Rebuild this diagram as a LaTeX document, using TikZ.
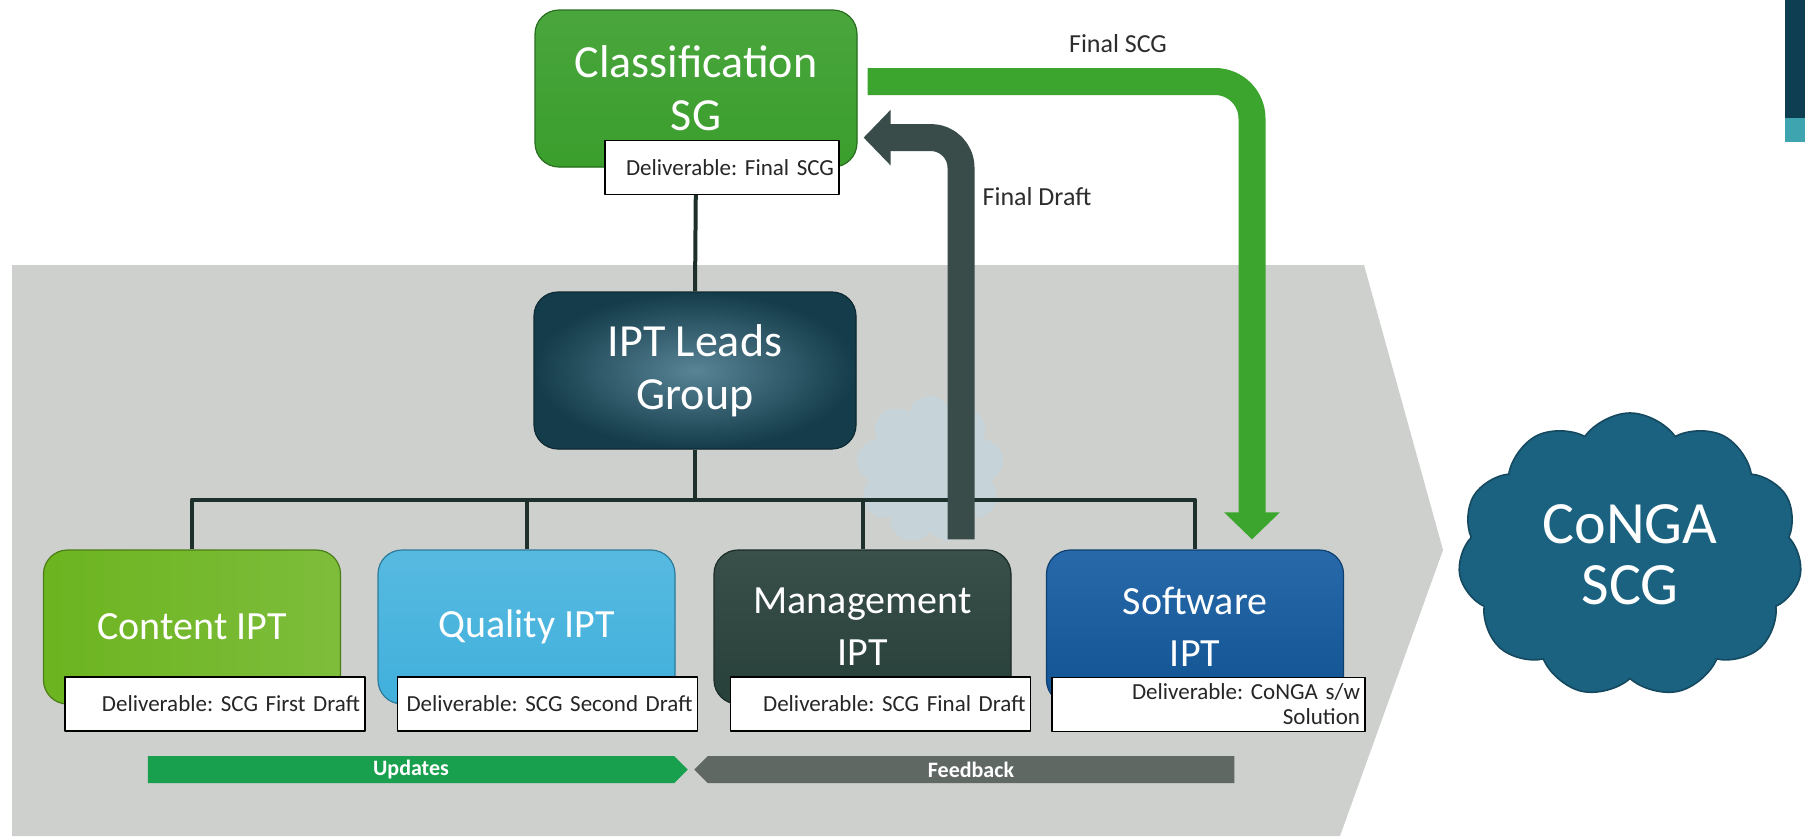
\documentclass[tikz,border=0pt]{standalone}
\usepackage{fontspec}
\setmainfont{Carlito}
\usetikzlibrary{arrows.meta,shapes.symbols,calc}
\frenchspacing
\definecolor{bandgrey}{RGB}{206,208,205}
\definecolor{ghostblue}{RGB}{198,211,216}
\definecolor{wirecol}{RGB}{30,48,44}
\definecolor{clsgreen}{RGB}{58,158,44}
\definecolor{leadsteal}{RGB}{20,60,74}
\definecolor{leadsglow}{RGB}{88,132,150}
\definecolor{contgreen}{RGB}{108,180,32}
\definecolor{qualblue}{RGB}{64,176,220}
\definecolor{mgmtgreen}{RGB}{40,64,58}
\definecolor{swblue}{RGB}{20,92,162}
\definecolor{congablue}{RGB}{27,97,128}
\definecolor{scgarrow}{RGB}{60,165,46}
\definecolor{draftgrey}{RGB}{58,76,73}
\definecolor{updgreen}{RGB}{24,160,78}
\definecolor{fbgrey}{RGB}{96,104,100}
\definecolor{lbltext}{RGB}{45,45,45}
\definecolor{tabdark}{RGB}{14,62,82}
\definecolor{tablight}{RGB}{62,165,176}
\begin{document}
\begin{tikzpicture}[x=0.5pt,y=-0.5pt,line join=round,
	box/.style={rounded corners=12pt,draw=#1!70!black,line width=0.6pt,fill=#1,text=white,align=center,
		minimum width=148.5pt,minimum height=77pt,font=\fontsize{20}{26}\selectfont},
	topbox/.style={box=#1,minimum width=161pt,minimum height=78.5pt,font=\fontsize{23}{26.5}\selectfont},
	deliv/.style={draw=black,line width=0.8pt,fill=white,text=black!85,minimum height=27pt,inner xsep=2.5pt,
		text width=145pt,align=right,font=\fontsize{11.5}{12.5}\selectfont},
	wire/.style={draw=wirecol,line width=2pt},
	bigarrow/.style={line width=13.5pt,-{Triangle[length=13.5pt,width=27pt]}},
	lbl/.style={text=lbltext,font=\fontsize{13}{15}\selectfont},
	band/.style={signal,signal pointer angle=90,minimum width=270pt,minimum height=13.5pt,inner ysep=0pt,
		text=white,font=\bfseries\fontsize{11}{13}\selectfont}]
	\useasboundingbox (0,0) rectangle (1805,836);
	\fill[white] (0,0) rectangle (1805,836);
	\fill[bandgrey] (12,265) -- (1364,265) -- (1443,550) -- (1340,836) -- (12,836) -- cycle;
	\fill[tabdark] (1785,0) rectangle (1805,118);
	\fill[tablight] (1785,118) rectangle (1805,142);
	\node[cloud,cloud puffs=9,fill=ghostblue,minimum width=74pt,minimum height=74pt] (ghost) at (930,470) {};

	\node[topbox=clsgreen,top color=clsgreen!92!white,bottom color=clsgreen] (clsg) at (696,88.5) {Classification\\SG};
	\node[topbox=leadsteal,shading=radial,inner color=leadsglow,outer color=leadsteal] (leads) at (695,370.5) {IPT Leads\\Group};
	\node[box=contgreen,left color=contgreen,right color=contgreen!88!white] (content) at (192,627) {Content IPT};
	\node[box=qualblue,top color=qualblue!88!white,bottom color=qualblue] (quality) at (526.5,627) {Quality IPT};
	\node[box=mgmtgreen,top color=mgmtgreen!92!white,bottom color=mgmtgreen] (mgmt) at (862.5,627) {Management\\IPT};
	\node[box=swblue,top color=swblue!92!white,bottom color=swblue!90!black] (sw) at (1195,627) {Software\\IPT};
	\node[cloud,cloud puffs=11,cloud puff arc=110,aspect=1.3,fill=congablue,draw=congablue!75!black,line width=0.8pt,
		minimum width=172pt,minimum height=142pt,text=white,align=center,font=\fontsize{30}{30.5}\selectfont] (conga) at (1630,555) {CoNGA\\SCG};

	\coordinate (bus) at ($(leads.south)+(0,50)$);
	\draw[wire] (clsg.south) -- (leads.north);
	\draw[wire] (leads.south) -- (bus);
	\draw[wire] (content.north) |- (bus) -| (sw.north);
	\draw[wire] (quality.north) -- (quality.north |- bus);
	\draw[wire] (mgmt.north) -- (mgmt.north |- bus);

	\node[deliv,text width=112pt] (clsgdel) at (722,167.5) {Deliverable: Final SCG};
	\node[deliv] (contdel) at (215,704) {Deliverable: SCG First Draft};
	\node[deliv] (qualdel) at (547.5,704) {Deliverable: SCG Second Draft};
	\node[deliv] (mgmtdel) at (880.5,704) {Deliverable: SCG Final Draft};
	\node[deliv,text width=151.5pt,inner ysep=1.5pt] (swdel) at (1208.5,704.5) {Deliverable: CoNGA s/w\\Solution};

	\draw[bigarrow,draftgrey,rounded corners=15pt] ($(mgmt.north)+(98.5,-10)$) |- ($(clsg.south east)+(6,-30)$);
	\draw[bigarrow,scgarrow,rounded corners=18.5pt] ($(clsg.east)+(10,-7)$) -| ($(sw.north)+(57,-10)$);
	\node[lbl] (scglbl) at (1118,44) {Final SCG};
	\node[lbl] (draftlbl) at (1037,197) {Final Draft};

	\node[band,fill=updgreen,signal to=east] (upd) at (411,769.5) {Updates};
	\node[band,fill=fbgrey,signal to=west] (fb) at (971,769.5) {Feedback};
\end{tikzpicture}
\end{document}
